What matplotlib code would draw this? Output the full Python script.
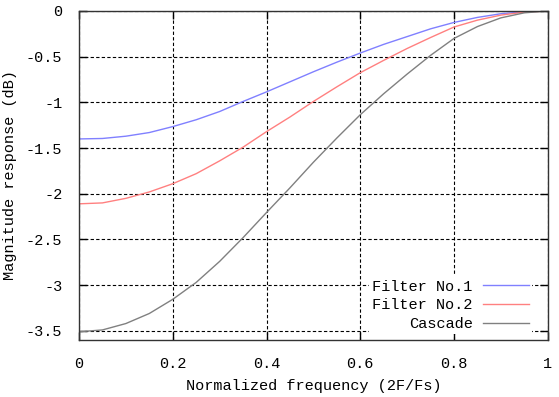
import numpy as np
import matplotlib
matplotlib.use('Agg')
import matplotlib.pyplot as plt

# values, step 0.05 in normalized frequency
freq = np.round(np.arange(0, 1.0001, 0.05), 2)

filter1 = [-1.40, -1.395, -1.37, -1.33, -1.265, -1.19, -1.10, -0.99, -0.885, -0.775,
           -0.665, -0.56, -0.46, -0.365, -0.28, -0.195, -0.125, -0.07, -0.03, -0.008, 0.0]
filter2 = [-2.11, -2.10, -2.05, -1.98, -1.89, -1.78, -1.64, -1.49, -1.32, -1.16,
           -0.99, -0.83, -0.675, -0.54, -0.41, -0.29, -0.175, -0.10, -0.045, -0.012, 0.0]
cascade = [-3.51, -3.49, -3.42, -3.31, -3.155, -2.97, -2.74, -2.48, -2.205, -1.935,
           -1.655, -1.39, -1.135, -0.905, -0.69, -0.485, -0.30, -0.17, -0.075, -0.02, 0.0]

xticks = [0, 0.2, 0.4, 0.6, 0.8, 1]
xtick_labels = ['0', '0.2', '0.4', '0.6', '0.8', '1']
yticks = [0, -0.5, -1, -1.5, -2, -2.5, -3, -3.5]
ytick_labels = ['0', '-0.5', '-1', '-1.5', '-2', '-2.5', '-3', '-3.5']

plt.rcParams['font.family'] = ['Liberation Mono', 'DejaVu Sans Mono']
plt.rcParams['font.size'] = 11

fig = plt.figure(figsize=(5.59, 3.97), dpi=100)
ax = fig.add_axes([0.1413, 0.1436, 0.980 - 0.1413, 0.9723 - 0.1436])

ax.plot(freq, filter1, color='#8080ff', lw=1.0, label='Filter No.1')
ax.plot(freq, filter2, color='#ff8080', lw=1.0, label='Filter No.2')
ax.plot(freq, cascade, color='#808080', lw=1.0, label='Cascade')

ax.set_xlim(0, 1)
ax.set_ylim(-3.6, 0)
ax.set_xticks(xticks)
ax.set_xticklabels(xtick_labels)
ax.set_yticks(yticks)
ax.set_yticklabels(ytick_labels)

ax.grid(True, color='black', linestyle=(0, (3, 2)), lw=0.8)
ax.tick_params(direction='in', top=True, right=True, length=6, width=1, pad=12)
for s in ax.spines.values():
    s.set_linewidth(1.0)
    s.set_color('#333333')

ax.set_xlabel('Normalized frequency (2F/Fs)', labelpad=6)
ax.set_ylabel('Magnitude response (dB)', labelpad=6)

leg = ax.legend(loc='lower right', bbox_to_anchor=(0.9665, 0.018), markerfirst=False,
                frameon=True, fancybox=False, handlelength=3.0, handletextpad=0.7,
                labelspacing=0.31, borderaxespad=0, borderpad=0.2)
leg.get_frame().set_edgecolor('none')
leg.get_frame().set_facecolor('white')
leg.get_frame().set_alpha(1.0)
for t in leg.get_texts():
    t.set_ha('right')

fig.savefig('out.png', dpi=100)
